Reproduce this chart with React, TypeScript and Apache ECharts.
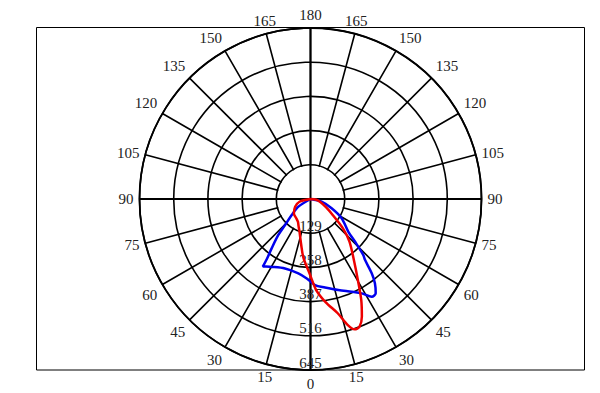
import React, { useEffect, useRef } from "react";
import * as echarts from "echarts";

// Gamma angles (degrees, negative = left half, positive = right half) and intensities (cd)
const redGamma = [-90, -76, -63, -49, -37, -29, -24, -18.6, -11.4, -6.8, -0.8, 3.6, 8.3, 13.4, 16.5, 18.7, 21, 23.6, 26.7, 30.3, 34.5, 42.4, 47.8, 54.3, 62, 72, 82, 90];
const redCd = [0, 43, 65, 83, 90, 98, 111, 130, 177, 224, 280, 344, 393, 443, 496, 519, 516, 484, 426, 354, 293, 218, 165, 103, 66, 40, 22, 0];

const blueGamma = [-90, -57.7, -49.6, -44.4, -41.8, -38.2, -36, -35.2, -33.5, -31, -20.2, -9.3, -2.7, 3, 9.3, 17, 24, 28.5, 32.1, 34.7, 37.4, 39.5, 41.8, 43.3, 46.2, 49.1, 58.3, 66.3, 76.4, 90];
const blueCd = [0, 54, 93, 137, 182, 237, 280, 312, 305, 298, 279, 284, 300, 325, 338, 359, 383, 405, 435, 432, 400, 363, 309, 290, 233, 189, 138, 87, 43, 0];

const radiusMax = 645;
const radiusStep = 129;
const angleStep = 15;

const CX = 310.5;
const CY = 199;
const R = 171;

function toPolar(gammas: number[], cds: number[]) {
  return gammas.map((g, i) => [cds[i], g >= 0 ? g : 360 + g]);
}

export default function App() {
  const ref = useRef<HTMLDivElement>(null);
  useEffect(() => {
    if (!ref.current) return;
    const chart = echarts.init(ref.current, undefined, { renderer: "svg" });
    const font = "'Liberation Serif', 'DejaVu Serif', serif";
    const holeR = (R * radiusStep) / radiusMax;
    chart.setOption({
      animation: false,
      backgroundColor: "#fff",
      polar: { center: [CX, CY], radius: R },
      angleAxis: {
        type: "value",
        min: 0,
        max: 360,
        interval: angleStep,
        startAngle: 270,
        clockwise: false,
        z: 0,
        axisLine: { show: true, lineStyle: { color: "#000", width: 1.8 } },
        axisTick: { show: false },
        splitLine: { show: true, lineStyle: { color: "#000", width: 1.6 } },
        axisLabel: {
          margin: 6,
          fontFamily: font,
          fontSize: 15,
          color: "#222",
          formatter: (v: number) => String(v <= 180 ? v : 360 - v),
        },
      },
      radiusAxis: {
        type: "value",
        min: 0,
        max: radiusMax,
        interval: radiusStep,
        z: 2,
        axisLine: { show: false },
        axisTick: { show: false },
        splitLine: { show: true, lineStyle: { color: "#000", width: 1.6 } },
        axisLabel: {
          showMinLabel: false,
          margin: 0,
          align: "center",
          verticalAlign: "bottom",
          fontFamily: font,
          fontSize: 15,
          color: "#222",
        },
      },
      graphic: {
        z: 1,
        elements: [
          {
            type: "rect",
            z: 1,
            shape: { x: 36.5, y: 27.5, width: 548, height: 342.5 },
            style: { fill: "none", stroke: "#000", lineWidth: 1 },
          },
          {
            type: "circle",
            z: 1,
            shape: { cx: CX, cy: CY, r: holeR - 0.9 },
            style: { fill: "#fff" },
          },
          {
            type: "line",
            z: 1,
            shape: { x1: CX, y1: CY - R, x2: CX, y2: CY + R },
            style: { stroke: "#000", lineWidth: 2 },
          },
          {
            type: "line",
            z: 1,
            shape: { x1: CX - R, y1: CY, x2: CX + R, y2: CY },
            style: { stroke: "#000", lineWidth: 2 },
          },
        ],
      },
      series: [
        {
          type: "line",
          coordinateSystem: "polar",
          data: toPolar(blueGamma, blueCd),
          showSymbol: false,
          smooth: 0.3,
          z: 10,
          lineStyle: { color: "#0000ee", width: 2.5 },
        },
        {
          type: "line",
          coordinateSystem: "polar",
          data: toPolar(redGamma, redCd),
          showSymbol: false,
          smooth: 0.3,
          z: 10,
          lineStyle: { color: "#ee0000", width: 2.5 },
        },
      ],
    });
    return () => chart.dispose();
  }, []);
  return (
    <div
      ref={ref}
      style={{ position: "absolute", left: 0, top: 0, width: 600, height: 393 }}
    />
  );
}
